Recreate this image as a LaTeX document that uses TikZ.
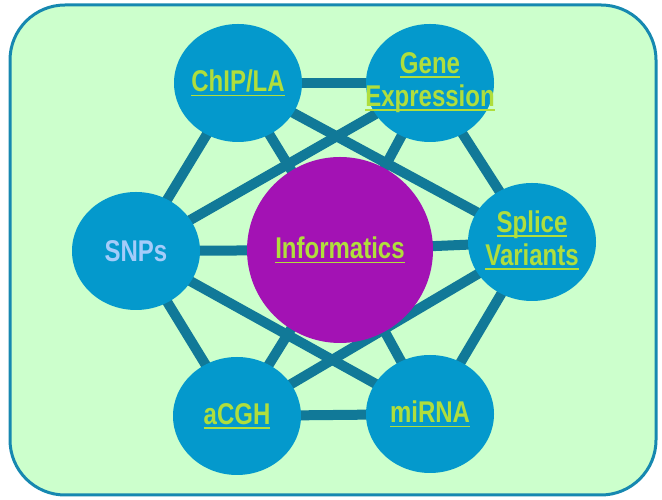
\documentclass[tikz,border=0pt]{standalone}
\usepackage{fontspec}
\setmainfont[FakeStretch=0.8]{Liberation Sans}
\usetikzlibrary{shapes.geometric,backgrounds}

\definecolor{mintbg}{RGB}{204,255,204}
\definecolor{frameblue}{RGB}{22,136,176}
\definecolor{hubblue}{RGB}{4,153,204}
\definecolor{linkteal}{RGB}{17,121,152}
\definecolor{corepurple}{RGB}{163,18,180}
\definecolor{linkgreen}{RGB}{176,222,60}
\definecolor{plainblue}{RGB}{164,204,250}

% underlined label, rule sits a little below the baseline
\newcommand{\linktext}[1]{\setbox0\hbox{#1}\rlap{\rule[-4.5bp]{\wd0}{1.3bp}}\box0}
% zero width so the long words do not stretch the ellipse
\newcommand{\hublabel}[1]{\makebox[0pt]{\linktext{#1}}}
\newcommand{\twolines}[2]{\begin{tabular}{@{}c@{}}\hublabel{#1}\\\hublabel{#2}\end{tabular}}

\begin{document}
\begin{tikzpicture}[x=1bp,y=1bp,
    hub/.style={ellipse,fill=hubblue,minimum width=128bp,minimum height=118bp,
        inner sep=0pt,text=linkgreen,
        font=\fontsize{30bp}{33bp}\selectfont\bfseries},
    core/.style={circle,fill=corepurple,minimum size=186bp,inner sep=0pt,
        text=linkgreen,font=\fontsize{30bp}{33bp}\selectfont\bfseries},
    link/.style={draw=linkteal,line width=10bp}]
  \useasboundingbox (0,0) rectangle (662,500);

  % the ring of data sources
  \node[hub] (chip)   at (238,417) {\hublabel{ChIP/LA}};
  \node[hub] (gene)   at (430,417) {\raisebox{9bp}{\twolines{Gene}{Expression}}};
  \node[hub] (snps)   at (136,249) {\makebox[0pt]{\textcolor{plainblue}{SNPs}}};
  \node[hub] (splice) at (532,258) {\twolines{Splice}{Variants}};
  \node[hub] (acgh)   at (237,84)  {\raisebox{3bp}{\hublabel{aCGH}}};
  \node[hub] (mirna)  at (430,86)  {\raisebox{3bp}{\hublabel{miRNA}}};
  \node[core] (info)  at (340,250) {\linktext{Informatics}};

  \begin{scope}[on background layer]
    \draw[frameblue,fill=mintbg,line width=3bp,rounded corners=55bp] (10,5) rectangle (656,495);
    % outer hexagon
    \foreach \a/\b in {chip/gene,gene/splice,splice/mirna,mirna/acgh,acgh/snps,snps/chip}
      \draw[link] (\a.center) -- (\b.center);
    % cross links
    \foreach \a/\b in {chip/splice,gene/snps,snps/mirna,acgh/splice}
      \draw[link] (\a.center) -- (\b.center);
    % spokes to the centre
    \foreach \a in {chip,gene,snps,splice,acgh,mirna}
      \draw[link] (\a.center) -- (info.center);
  \end{scope}
\end{tikzpicture}
\end{document}
